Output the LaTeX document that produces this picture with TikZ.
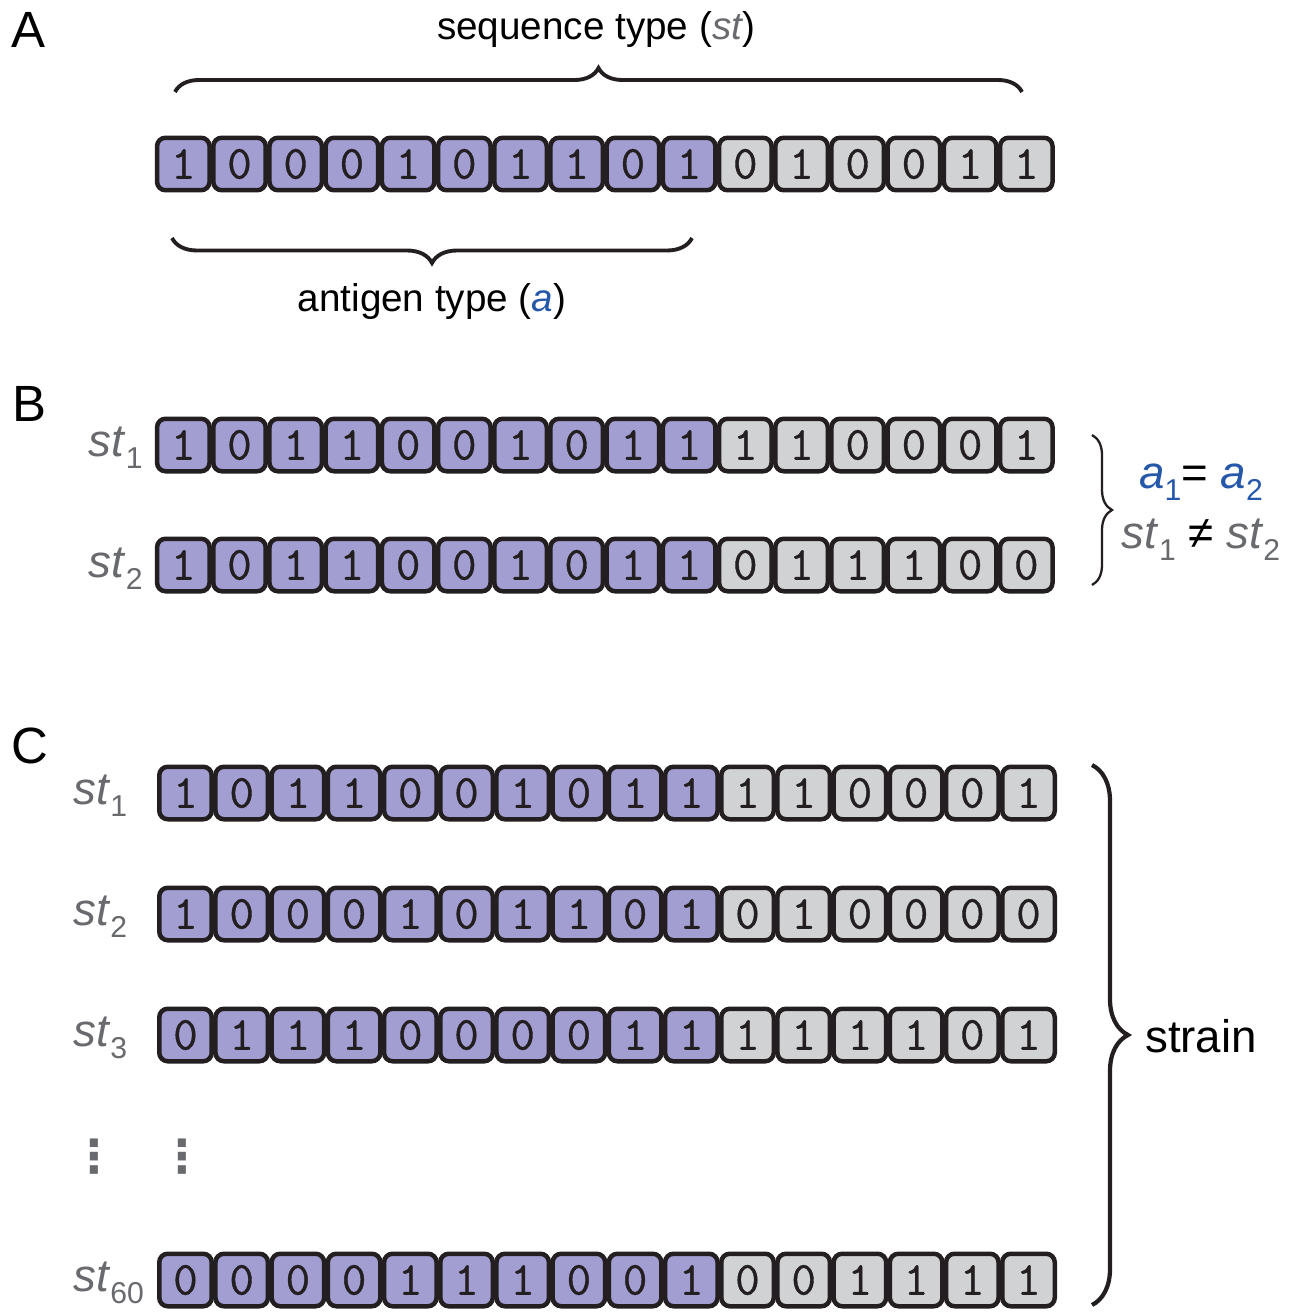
\documentclass[tikz,border=0pt]{standalone}
\usepackage{fontspec}
\setmainfont{Liberation Sans}
\newfontfamily\dotfont{DejaVu Sans}
\newfontfamily\bitfont{Latin Modern Mono}[FakeBold=0.8]
\definecolor{agpurple}{RGB}{162,158,210}
\definecolor{stgray}{RGB}{209,210,212}
\definecolor{txtgray}{RGB}{105,106,109}
\definecolor{agblue}{RGB}{38,88,170}
\definecolor{edgeblack}{RGB}{35,31,32}
\usetikzlibrary{decorations.pathreplacing}
\newcommand{\lowidx}[1]{\raisebox{-0.5ex}{\scalebox{0.66}{\upshape #1}}}
\newcommand{\stlab}[1]{\textcolor{txtgray}{\textit{st}\lowidx{#1}}}
\newcommand{\alab}[1]{\textcolor{agblue}{\textit{a}\lowidx{#1}}}

\begin{document}
\begin{tikzpicture}[
  x=0.02cm, y=-0.02cm,
  cell/.style={draw=edgeblack,line width=0.09cm,rounded corners=0.17cm,
               minimum size=1.05cm,inner sep=0pt,text=edgeblack,
               font=\bitfont\fontsize{27}{27}\selectfont},
  panel/.style={font=\fontsize{29}{31}\selectfont},
  caption/.style={font=\fontsize{22}{26}\selectfont},
  rowlab/.style={font=\fontsize{26}{30}\selectfont,inner sep=0pt},
  dotcol/.style={text=txtgray,inner sep=0pt,font=\dotfont\bfseries\fontsize{26}{28}\selectfont},
  curly/.style={decorate,decoration={brace,amplitude=#1},edgeblack},
]
  \useasboundingbox (0,0) rectangle (1293,1312);

  % Panel letters
  \node[panel] (pA) at (28,30)  {A};
  \node[panel] (pB) at (29,404) {B};
  \node[panel] (pC) at (30,746) {C};

  % Panel A
  \foreach \b [count=\i] in {1,0,0,0,1,0,1,1,0,1,0,1,0,0,1,1}{
    \ifnum\i<11 \def\fc{agpurple}\else\def\fc{stgray}\fi
    \node[cell,fill=\fc] (ra-\i) at ({183.3+56.2*(\i-1)},164) {\b};
  }
  \coordinate (stL) at (175,92);
  \coordinate (stR) at (1022,92);
  \draw[curly=0.48cm,line width=2.2pt] (stL) -- (stR);
  \node[caption] (sttxt) at (596,30) {sequence type (\textit{\textcolor{txtgray}{st}})};
  \coordinate (agL) at (172,238);
  \coordinate (agR) at (692,238);
  \draw[curly=0.5cm,line width=2.2pt] (agR) -- (agL);
  \node[caption] (agtxt) at (432,302) {antigen type (\textit{\textcolor{agblue}{a}})};

  % Panel B
  \foreach \b [count=\i] in {1,0,1,1,0,0,1,0,1,1,1,1,0,0,0,1}{
    \ifnum\i<11 \def\fc{agpurple}\else\def\fc{stgray}\fi
    \node[cell,fill=\fc] (rb1-\i) at ({183.3+56.2*(\i-1)},445) {\b};
  }
  \foreach \b [count=\i] in {1,0,1,1,0,0,1,0,1,1,0,1,1,1,0,0}{
    \ifnum\i<11 \def\fc{agpurple}\else\def\fc{stgray}\fi
    \node[cell,fill=\fc] (rb2-\i) at ({183.3+56.2*(\i-1)},565) {\b};
  }
  \node[rowlab,anchor=base east] (lb1) at (143,456) {\stlab{1}};
  \node[rowlab,anchor=base east] (lb2) at (143,577) {\stlab{2}};
  \coordinate (bT) at (1092,435);
  \coordinate (bB) at (1092,585);
  \draw[curly=0.4cm,line width=1.3pt] (bT) -- (bB);
  \node[rowlab,anchor=base] (eqa)  at (1201,488) {\alab{1}= \alab{2}};
  \node[rowlab,anchor=base] (neqs) at (1201,548) {\stlab{1} ≠ \stlab{2}};

  % Panel C
  \foreach \b [count=\i] in {1,0,1,1,0,0,1,0,1,1,1,1,0,0,0,1}{
    \ifnum\i<11 \def\fc{agpurple}\else\def\fc{stgray}\fi
    \node[cell,fill=\fc] (rc1-\i) at ({185.5+56.2*(\i-1)},793) {\b};
  }
  \foreach \b [count=\i] in {1,0,0,0,1,0,1,1,0,1,0,1,0,0,0,0}{
    \ifnum\i<11 \def\fc{agpurple}\else\def\fc{stgray}\fi
    \node[cell,fill=\fc] (rc2-\i) at ({185.5+56.2*(\i-1)},914) {\b};
  }
  \foreach \b [count=\i] in {0,1,1,1,0,0,0,0,1,1,1,1,1,1,0,1}{
    \ifnum\i<11 \def\fc{agpurple}\else\def\fc{stgray}\fi
    \node[cell,fill=\fc] (rc3-\i) at ({185.5+56.2*(\i-1)},1035) {\b};
  }
  \foreach \b [count=\i] in {0,0,0,0,1,1,1,0,0,1,0,0,1,1,1,1}{
    \ifnum\i<11 \def\fc{agpurple}\else\def\fc{stgray}\fi
    \node[cell,fill=\fc] (rc60-\i) at ({185.5+56.2*(\i-1)},1280) {\b};
  }
  \node[rowlab,anchor=base west] (lc1)  at (73,804)  {\stlab{1}};
  \node[rowlab,anchor=base west] (lc2)  at (73,925)  {\stlab{2}};
  \node[rowlab,anchor=base west] (lc3)  at (73,1046) {\stlab{3}};
  \node[rowlab,anchor=base west] (lc60) at (73,1291) {\stlab{60}};
  \node[dotcol] (dl) at (94,1157)  {⋮};
  \node[dotcol] (dr) at (182,1157) {⋮};
  \coordinate (cT) at (1092,765);
  \coordinate (cB) at (1092,1305);
  \draw[curly=0.72cm,line width=2.4pt] (cT) -- (cB);
  \node[rowlab] (strain) at (1201,1036) {strain};
\end{tikzpicture}
\end{document}
